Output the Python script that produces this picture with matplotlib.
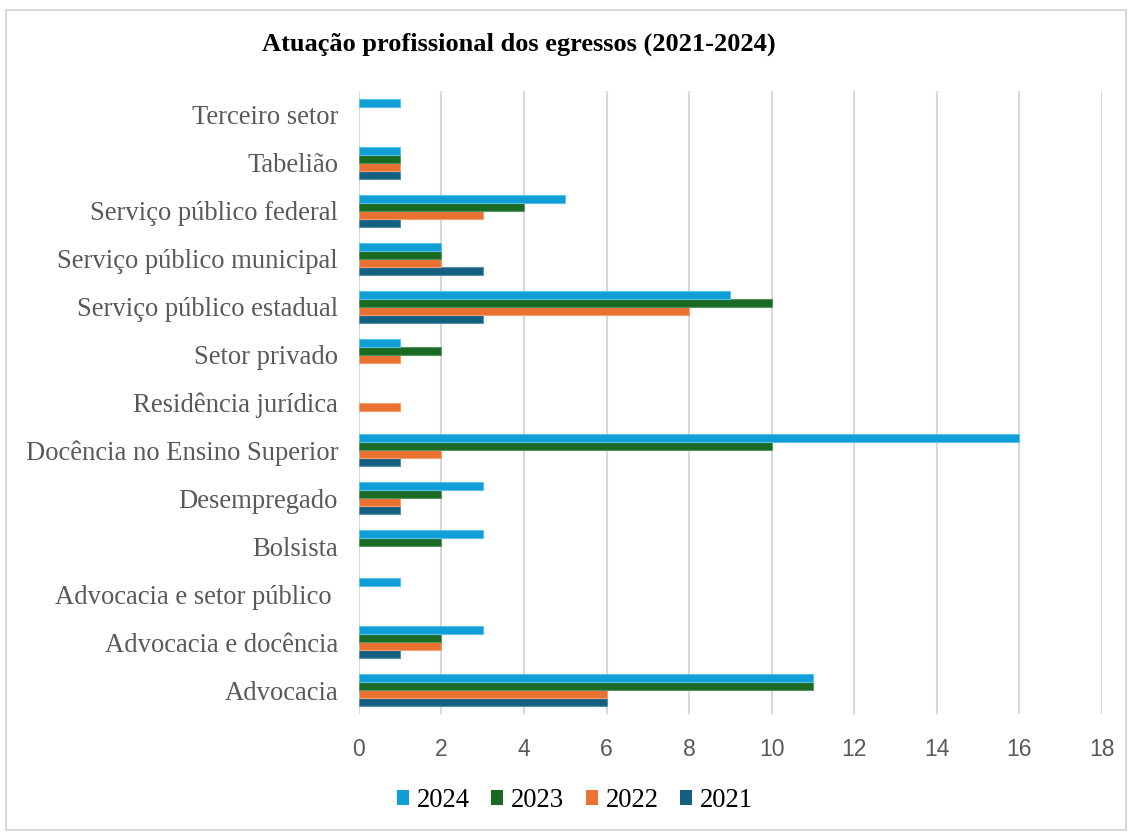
import matplotlib
matplotlib.use('Agg')
import matplotlib.pyplot as plt
import numpy as np
from matplotlib.patches import Rectangle

categories = ['Advocacia', 'Advocacia e docência', 'Advocacia e setor público ',
              'Bolsista', 'Desempregado', 'Docência no Ensino Superior',
              'Residência jurídica', 'Setor privado', 'Serviço público estadual',
              'Serviço público municipal', 'Serviço público federal', 'Tabelião',
              'Terceiro setor']
years = ['2021', '2022', '2023', '2024']
v2021 = [6, 1, 0, 0, 1, 1, 0, 0, 3, 3, 1, 1, 0]
v2022 = [6, 2, 0, 0, 1, 2, 1, 1, 8, 2, 3, 1, 0]
v2023 = [11, 2, 0, 2, 2, 10, 0, 2, 10, 2, 4, 1, 0]
v2024 = [11, 3, 1, 3, 3, 16, 0, 1, 9, 2, 5, 1, 1]
series = [v2021, v2022, v2023, v2024]
colors = ['#156082', '#E97132', '#196B24', '#0F9ED5']
edges = ['#5b8fa8', '#f0a070', '#5a9460', '#5cc0e6']

fig = plt.figure(figsize=(11.32, 8.32), dpi=100)
ax = fig.add_axes([0.317, 0.1418, 0.6565, 0.7488])

y = np.arange(len(categories))
h = 0.167
handles = []
for i, (vals, c, ec) in enumerate(zip(series, colors, edges)):
    b = ax.barh(y + (i - 1.5) * h, vals, height=h, color=c, edgecolor=ec,
                linewidth=0.8, zorder=3, label=years[i])
    for patch, v in zip(b.patches, vals):
        if v == 0:
            patch.set_visible(False)
    handles.append(b)

ax.set_xlim(0, 18)
ax.set_ylim(-0.5, len(categories) - 0.5)
ax.set_xticks(range(0, 19, 2))
ax.set_yticks(y)
ax.set_yticklabels(categories, fontfamily='Liberation Serif', fontsize=19.2,
                   color='#595959')
for lab in ax.get_xticklabels():
    lab.set_fontfamily('Liberation Sans')
    lab.set_fontsize(16.5)
    lab.set_color('#595959')
ax.tick_params(axis='both', length=0)
ax.tick_params(axis='x', pad=17)
ax.tick_params(axis='y', pad=15)
ax.grid(axis='x', color='#d9d9d9', linewidth=1.5, zorder=0)
for s in ax.spines.values():
    s.set_visible(False)

fig.text(0.458, 0.947, 'Atuação profissional dos egressos (2021-2024)',
         ha='center', va='center', fontfamily='Liberation Serif',
         fontweight='bold', fontsize=19)

leg = fig.legend(handles[::-1], years[::-1], loc='center', bbox_to_anchor=(0.508, 0.038),
                 ncol=4, frameon=False, handlelength=0.45, handleheight=0.45,
                 handletextpad=0.3, columnspacing=0.8,
                 prop={'family': 'Liberation Serif', 'size': 19.2})
for p in leg.legend_handles:
    p.set_edgecolor('none')

fig.patches.append(Rectangle((0.005, 0.003), 0.99, 0.985, transform=fig.transFigure,
                             fill=False, edgecolor='#d9d9d9', linewidth=1.5))

fig.savefig('out.png', dpi=100)
